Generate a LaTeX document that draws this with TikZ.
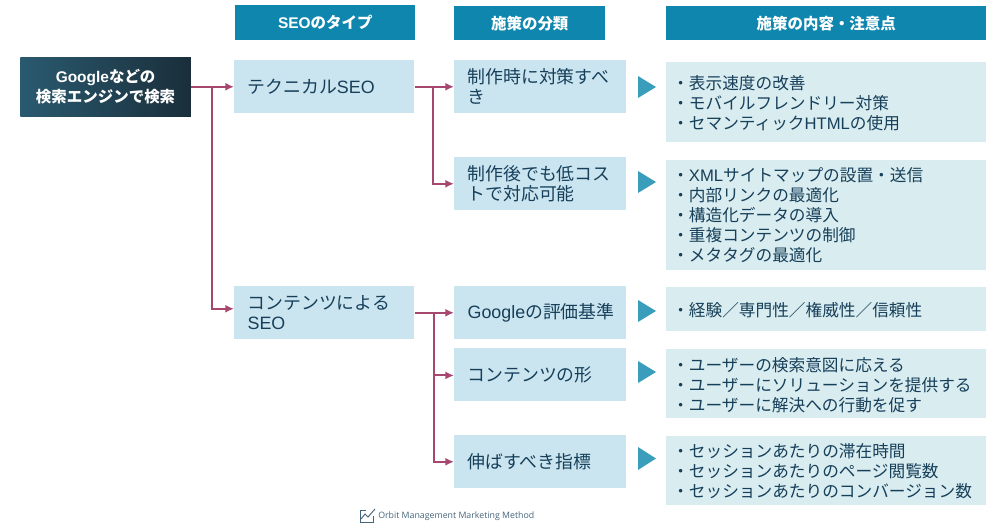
\documentclass[tikz,border=0pt]{standalone}
\usepackage{fontspec}
\usetikzlibrary{arrows.meta}
\setmainfont{Noto Sans CJK JP}
\newfontfamily\latinfont{Liberation Sans}
\newfontfamily\footfont{Open Sans}
\newcommand{\lat}[1]{{\latinfont #1}}
\definecolor{headblue}{HTML}{0F86AD}
\definecolor{paleblue}{HTML}{CBE5F0}
\definecolor{palegreen}{HTML}{D9ECEF}
\definecolor{inkblue}{HTML}{163F5A}
\definecolor{arrowblue}{HTML}{3A9DBB}
\definecolor{linkred}{HTML}{A5476F}
\definecolor{startleft}{HTML}{2A5A70}
\definecolor{startright}{HTML}{1A2E3A}
\tikzset{
    headbox/.style={fill=headblue, text=white, anchor=north west, font=\fontsize{11.6}{14}\selectfont\bfseries, align=center, inner sep=0pt},
    typebox/.style={fill=paleblue, text=inkblue, anchor=north west, font=\fontsize{13.4}{15}\selectfont, align=left, inner sep=0pt, minimum width=135pt, minimum height=39.75pt, text width=115pt},
    classbox/.style={typebox, minimum width=129pt, text width=109pt},
    listbox/.style={fill=palegreen, text=inkblue, anchor=north west, font=\fontsize{12.5}{15}\selectfont, align=left, inner sep=0pt, minimum width=240pt, text width=231pt},
    listlow/.style={listbox, execute at end node={\par\vspace{-1.5pt}}},
    link/.style={linkred, line width=1.5pt, -{Latex[length=6.5pt,width=6pt]}},
    turn/.style={arrowblue},
}

\begin{document}
\begin{tikzpicture}[x=0.75pt, y=-0.75pt]
    \useasboundingbox (0,0) rectangle (990,529);

    %% headers
    \node[headbox, minimum width=135pt, minimum height=26.25pt] (headtype) at (235,5) {\lat{\textbf{SEO}}のタイプ};
    \node[headbox, minimum width=113.25pt, minimum height=25.5pt] (headclass) at (454,6) {施策の分類};
    \node[headbox, minimum width=240pt, minimum height=25.5pt] (headlist) at (666,6) {施策の内容・注意点};

    %% start
    \node[anchor=north west, left color=startleft, right color=startright, text=white, font=\fontsize{11.6}{15.5}\selectfont\bfseries, align=center, inner sep=0pt, minimum width=128pt, minimum height=44.25pt] (start) at (20,57) {\lat{\textbf{Google}}などの\\検索エンジンで検索};

    %% SEO types
    \node[typebox] (tech) at (234,60) {テクニカル\lat{SEO}};
    \node[typebox] (cont) at (234,286) {コンテンツによる\\\lat{SEO}};

    %% classes
    \node[classbox] (build) at (454,60) {制作時に対策すべ\\き};
    \node[classbox] (after) at (454,157) {制作後でも低コス\\トで対応可能};
    \node[classbox] (eval) at (454,286) {\lat{Google}の評価基準};
    \node[classbox] (form) at (454,348) {コンテンツの形};
    \node[classbox] (kpi) at (454,435) {伸ばすべき指標};

    %% lists
    \node[listlow, minimum height=60pt] (buildlist) at (666,62) {・表示速度の改善\\・モバイルフレンドリー対策\\・セマンティック\lat{HTML}の使用};
    \node[listbox, minimum height=82.5pt] (afterlist) at (666,160) {・\lat{XML}サイトマップの設置・送信\\・内部リンクの最適化\\・構造化データの導入\\・重複コンテンツの制御\\・メタタグの最適化};
    \node[listlow, minimum height=33pt] (evallist) at (666,287) {・経験／専門性／権威性／信頼性};
    \node[listlow, minimum height=51.75pt] (formlist) at (666,349) {・ユーザーの検索意図に応える\\・ユーザーにソリューションを提供する\\・ユーザーに解決への行動を促す};
    \node[listbox, minimum height=51.75pt] (kpilist) at (666,436) {・セッションあたりの滞在時間\\・セッションあたりのページ閲覧数\\・セッションあたりのコンバージョン数};

    %% turn points
    \coordinate (bendstart) at (212,86.5);
    \coordinate (bendtech) at (433,86.5);
    \coordinate (bendcont) at (434,312);

    %% start to types
    \draw[link] (start.east) -- (tech.west);
    \draw[link] (bendstart) |- ([yshift=3pt]cont.west);

    %% types to classes
    \draw[link] (tech.east) -- (build.west);
    \draw[link] (bendtech) |- (after.west);
    \draw[link] (cont.east) -- (eval.west);
    \draw[link] (bendcont) |- ([yshift=-0.5pt]form.west);
    \draw[link] (bendcont) |- (kpi.west);

    %% triangles
    \fill[turn] (638,76) -- (656,87) -- (638,98) -- cycle;
    \fill[turn] (638,171) -- (656,182) -- (638,193) -- cycle;
    \fill[turn] (638,300) -- (656,311) -- (638,322) -- cycle;
    \fill[turn] (638,361) -- (656,372) -- (638,383) -- cycle;
    \fill[turn] (638,447) -- (656,458.5) -- (638,470) -- cycle;

    %% footer
    \draw[inkblue!80, line width=0.7pt] (366,510) -- (360,510) -- (360,522) -- (373,522) -- (373,516);
    \draw[inkblue!80, line width=0.7pt] (361,519) -- (365,514) -- (368,517) -- (375,509);
    \node[inkblue!80, anchor=west, inner sep=0pt, font=\footfont\fontsize{6.6}{8}\selectfont] (brand) at (378,516.5) {Orbit Management Marketing Method};
\end{tikzpicture}
\end{document}
